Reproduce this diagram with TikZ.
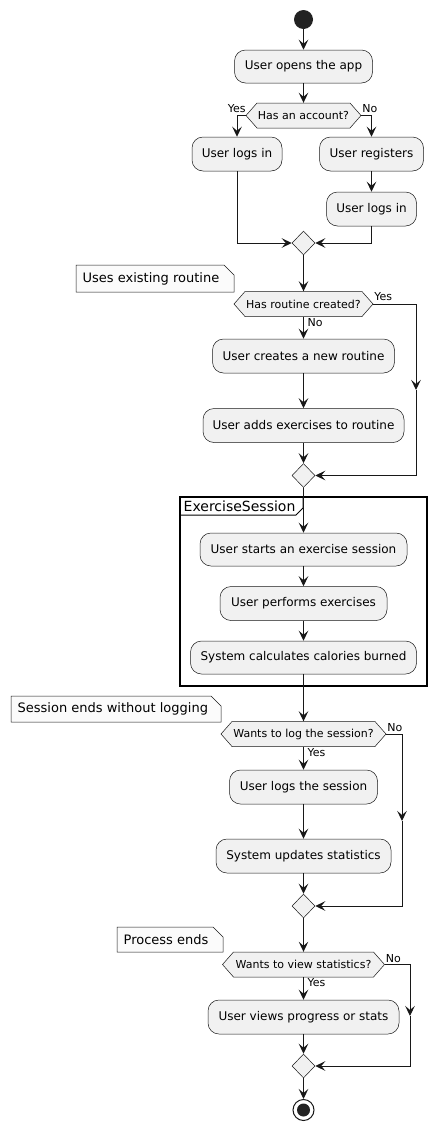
\documentclass[tikz,border=0pt]{standalone}
\usepackage{fontspec}
\setmainfont{DejaVu Sans}
\usetikzlibrary{arrows.meta,calc,shapes.geometric}
\definecolor{ln}{HTML}{181818}
\definecolor{bx}{HTML}{F1F1F1}
\definecolor{nt}{HTML}{FBFBFB}
\definecolor{dot}{HTML}{222222}
\tikzset{
  act/.style={draw=ln, line width=0.5pt, fill=bx, rounded corners=11pt, minimum height=34pt, inner sep=0pt, font=\fontsize{12}{14}\selectfont, text=black},
  flow/.style={draw=ln, line width=1pt, -{Stealth[length=10pt,width=9.5pt,inset=4pt]}},
  lbl/.style={font=\fontsize{11}{13}\selectfont, inner sep=0pt, text=black},
  dectext/.style={font=\fontsize{11}{13}\selectfont, inner sep=0pt, minimum height=25pt, text=black},
  hexbox/.style={draw=ln, line width=0.5pt, fill=bx},
  merge/.style={shape=diamond, draw=ln, line width=0.5pt, fill=bx, minimum width=23pt, minimum height=24pt, inner sep=0pt},
  notebox/.style={draw=ln, line width=0.5pt, fill=nt},
  notetext/.style={font=\fontsize{13}{15}\selectfont, inner sep=0pt, anchor=west, text=black},
}
% name, x, y, half width, text
\newcommand\hexdec[5]{%
  \filldraw[hexbox] (#2-#4,#3) -- (#2-#4+11,#3-12.5) -- (#2+#4-11,#3-12.5) -- (#2+#4,#3) -- (#2+#4-11,#3+12.5) -- (#2-#4+11,#3+12.5) -- cycle;
  \node[dectext, minimum width={2*#4pt}] (#1) at (#2,#3) {#5};
}
% name, x1, y1, x2, y2, text
\newcommand\notefold[6]{%
  \filldraw[notebox] (#2,#3) -- (#4-10,#3) -- (#4,#3+10) -- (#4,#5) -- (#2,#5) -- cycle;
  \node[notetext] (#1) at (#2+6.5,{(#3+#5)/2}) {#6};
}
\begin{document}
\begin{tikzpicture}[x=1pt,y=-1pt]
\useasboundingbox (0,0) rectangle (440,1130);
\fill[white] (0,0) rectangle (440,1130);

% start
\node[circle, fill=dot, minimum size=19pt, inner sep=0pt] (start) at (303.5,19.5) {};
\node[act, minimum width=138pt, minimum height=33pt] (open) at (303.5,66.5) {User opens the app};
\hexdec{dec1}{303.5}{115.5}{57.5}{Has an account?}
\node[act, minimum width=90pt] (login1) at (237,154) {User logs in};
\node[act, minimum width=104pt] (reg) at (371.5,154) {User registers};
\node[act, minimum width=90pt] (login2) at (371.5,209) {User logs in};
\node[merge] (m1) at (303.5,243) {};

\draw[flow] (start) -- (open);
\draw[flow] (open) -- (dec1);
\draw[flow] (dec1.west) -| (login1.north);
\draw[flow] (dec1.east) -| (reg.north);
\draw[flow] (reg) -- (login2);
\draw[flow] (login1.south) |- (m1.west);
\draw[flow] (login2.south) |- (m1.east);
\node[lbl, anchor=base east] (y1) at ($(dec1.west)+(0,-3)$) {Yes};
\node[lbl, anchor=base west] (n1) at ($(dec1.east)+(1,-3)$) {No};

% routine
\notefold{note1}{76}{265}{234}{292}{Uses existing routine}
\hexdec{dec2}{303.5}{304}{69.5}{Has routine created?}
\node[act, minimum width=182pt] (create) at (303.5,356) {User creates a new routine};
\node[act, minimum width=201pt] (adds) at (303.5,425.5) {User adds exercises to routine};
\node[merge] (m2) at (303.5,475.5) {};
\coordinate (b2) at (416,390);

\draw[flow] (m1.south) -- (dec2.north);
\draw[flow] (dec2.south) -- (create.north);
\draw[flow] (create) -- (adds);
\draw[flow] (adds.south) -- (m2.north);
\draw[flow] (dec2.east) -| (b2);
\draw[flow] (b2) |- (m2.east);
\node[lbl, anchor=base west] (y2) at ($(dec2.east)+(1,-4)$) {Yes};
\node[lbl, anchor=base west] (n2) at ($(dec2.south)+(4,9.5)$) {No};

% exercise session frame
\draw[line width=1.5pt, black] (180,497) rectangle (427,686);
\draw[line width=1pt, black] (180,515) -- (296,515) -- (303,508) -- (303,497);
\node[font=\fontsize{14}{16}\selectfont, inner sep=0pt, anchor=west, text=black] (ftitle) at (183.5,506) {ExerciseSession};
\node[act, minimum width=207pt, minimum height=33pt] (sess) at (303.5,549.5) {User starts an exercise session};
\node[act, minimum width=167pt] (perf) at (303.5,603.5) {User performs exercises};
\node[act, minimum width=226pt, minimum height=33pt] (calc) at (303.5,657.5) {System calculates calories burned};

\draw[flow] (m2.south) -- (sess.north);
\draw[flow] (sess) -- (perf);
\draw[flow] (perf) -- (calc);

% logging
\notefold{note2}{11}{696}{221}{722}{Session ends without logging}
\hexdec{dec3}{303.5}{734}{82.5}{Wants to log the session?}
\node[act, minimum width=148pt] (logs) at (303.5,787) {User logs the session};
\node[act, minimum width=175pt] (upd) at (303.5,856) {System updates statistics};
\node[merge] (m3) at (303.5,906) {};
\coordinate (b3) at (402,821);

\draw[flow] (calc.south) -- (dec3.north);
\draw[flow] (dec3.south) -- (logs.north);
\draw[flow] (logs) -- (upd);
\draw[flow] (upd.south) -- (m3.north);
\draw[flow] (dec3.east) -| (b3);
\draw[flow] (b3) |- (m3.east);
\node[lbl, anchor=base west] (n3) at ($(dec3.east)+(1,-3)$) {No};
\node[lbl, anchor=base west] (y3) at ($(dec3.south)+(4,10)$) {Yes};

% statistics
\notefold{note3}{117}{927}{223}{952}{Process ends}
\hexdec{dec4}{303.5}{964.5}{81}{Wants to view statistics?}
\node[act, minimum width=191pt] (views) at (303.5,1017) {User views progress or stats};
\node[merge] (m4) at (303.5,1066) {};
\coordinate (b4) at (410,1016);

\draw[flow] (m3.south) -- (dec4.north);
\draw[flow] (dec4.south) -- (views.north);
\draw[flow] (views.south) -- (m4.north);
\draw[flow] (dec4.east) -| (b4);
\draw[flow] (b4) |- (m4.east);
\node[lbl, anchor=base west] (n4) at ($(dec4.east)+(1,-2.5)$) {No};
\node[lbl, anchor=base west] (y4) at ($(dec4.south)+(4,9.5)$) {Yes};

% end
\node[circle, draw=ln, line width=1pt, fill=white, minimum size=21pt, inner sep=0pt] (stop) at (303.5,1110) {};
\fill[dot] (stop.center) circle (6.5pt);
\draw[flow] (m4.south) -- (stop.north);
\end{tikzpicture}
\end{document}
